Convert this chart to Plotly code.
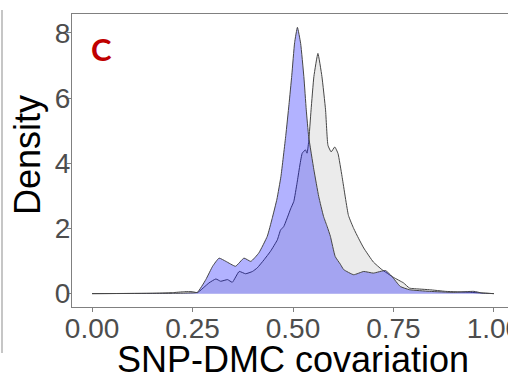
import plotly.graph_objects as go

# ---- data ----
blue_x = [0.00, 0.15, 0.20, 0.24, 0.262, 0.283, 0.300, 0.316, 0.333, 0.357, 0.378, 0.395,
          0.415, 0.436, 0.448, 0.460, 0.470, 0.482, 0.490, 0.497, 0.504, 0.511, 0.519,
          0.527, 0.533, 0.539, 0.552, 0.564, 0.576, 0.585, 0.593, 0.605, 0.618, 0.626,
          0.651, 0.676, 0.700, 0.730, 0.746, 0.767, 0.790, 0.840, 0.900, 0.950, 0.970, 1.00]
blue_y = [0.00, 0.01, 0.01, 0.02, 0.04, 0.43, 0.84, 1.09, 0.99, 0.84, 1.09, 0.99,
          1.25, 1.76, 2.30, 2.90, 3.60, 4.85, 5.80, 6.70, 7.70, 8.17, 7.68,
          6.66, 5.64, 4.82, 3.80, 2.98, 2.37, 2.06, 1.76, 1.14, 0.90, 0.74,
          0.58, 0.68, 0.63, 0.71, 0.53, 0.22, 0.12, 0.07, 0.04, 0.07, 0.02, 0.00]

grey_x = [0.00, 0.15, 0.20, 0.23, 0.25, 0.262, 0.291, 0.308, 0.320, 0.337, 0.349, 0.366,
          0.382, 0.399, 0.411, 0.428, 0.444, 0.461, 0.469, 0.477, 0.494, 0.502, 0.510,
          0.523, 0.531, 0.535, 0.539, 0.545, 0.552, 0.562, 0.572, 0.581, 0.587, 0.595,
          0.604, 0.612, 0.622, 0.638, 0.651, 0.663, 0.676, 0.700, 0.721, 0.750, 0.775,
          0.790, 0.816, 0.840, 0.880, 0.940, 0.970, 1.00]
grey_y = [0.00, 0.01, 0.03, 0.06, 0.06, 0.03, 0.33, 0.45, 0.38, 0.43, 0.35, 0.68,
          0.61, 0.68, 0.79, 1.04, 1.30, 1.65, 1.95, 2.06, 2.60, 2.83, 3.39,
          4.31, 4.41, 4.31, 4.66, 5.64, 6.66, 7.37, 6.66, 5.64, 4.55, 4.35,
          4.50, 4.30, 3.60, 2.40, 2.00, 1.70, 1.40, 0.97, 0.74, 0.50, 0.33,
          0.17, 0.14, 0.12, 0.07, 0.04, 0.02, 0.00]

x_ticks = [0.0, 0.25, 0.5, 0.75, 1.0]
x_ticklabels = ["0.00", "0.25", "0.50", "0.75", "1.00"]
y_ticks = [0, 2, 4, 6, 8]
y_ticklabels = ["0", "2", "4", "6", "8"]

W, H = 518, 382
ML, MR, MT, MB = 72, 4, 14, 75
pw, ph = W - ML - MR, H - MT - MB

def px_x(p):
    return (p - ML) / pw

def px_y(p):
    return (H - MB - p) / ph

line_col = "rgb(70,70,70)"
fig = go.Figure()
fig.add_trace(go.Scatter(x=grey_x, y=grey_y, mode="lines", fill="tozeroy",
                         fillcolor="rgba(190,190,190,0.3)",
                         line=dict(color=line_col, width=1, shape="spline", smoothing=0.4),
                         showlegend=False, hoverinfo="skip"))
fig.add_trace(go.Scatter(x=blue_x, y=blue_y, mode="lines", fill="tozeroy",
                         fillcolor="rgba(0,0,255,0.3)",
                         line=dict(color=line_col, width=1, shape="spline", smoothing=0.4),
                         showlegend=False, hoverinfo="skip"))

axis_line = "#808080"
tick_font = dict(family="Liberation Sans, Arial, sans-serif", size=28, color="#4D4D4D")
fig.update_xaxes(range=[-0.05, 1.05], tickvals=x_ticks, ticktext=x_ticklabels,
                 showgrid=False, zeroline=False, showline=True, mirror=True,
                 linecolor=axis_line, linewidth=1.3, ticks="outside", ticklen=4,
                 tickcolor=axis_line, tickwidth=1, tickfont=tick_font,
                 automargin=False, ticklabelstandoff=-8, ticklabeloverflow="allow")
fig.update_yaxes(range=[-0.41, 8.58], tickvals=y_ticks, ticktext=y_ticklabels,
                 showgrid=False, zeroline=False, showline=True, mirror=True,
                 linecolor=axis_line, linewidth=1.3, ticks="outside", ticklen=4,
                 tickcolor=axis_line, tickwidth=1, tickfont=tick_font,
                 automargin=False, ticklabelstandoff=-9, ticklabeloverflow="allow")

fig.update_layout(
    width=W, height=H,
    margin=dict(l=ML, r=MR, t=MT, b=MB, pad=0, autoexpand=False),
    paper_bgcolor="white", plot_bgcolor="white",
    shapes=[
        # crop of the right edge (reference image is cut here)
        dict(type="rect", xref="paper", yref="paper", x0=px_x(508), x1=px_x(520),
             y0=px_y(390), y1=px_y(-5), fillcolor="white", line=dict(width=0), layer="above"),
        # thin vertical rule at far left
        dict(type="line", xref="paper", yref="paper", x0=px_x(2), x1=px_x(2),
             y0=px_y(10), y1=px_y(353), line=dict(color="#A8A8A8", width=1.3), layer="above"),
    ],
    annotations=[
        dict(text="SNP-DMC covariation", xref="paper", yref="paper", x=0.5, y=px_y(359),
             xanchor="center", yanchor="middle", showarrow=False,
             font=dict(family="Liberation Sans, Arial, sans-serif", size=36, color="black")),
        dict(text="Density", xref="paper", yref="paper", x=px_x(27), y=px_y(155),
             xanchor="center", yanchor="middle", showarrow=False, textangle=-90,
             font=dict(family="Liberation Sans, Arial, sans-serif", size=36, color="black")),
        dict(text="<b>C</b>", xref="paper", yref="paper", x=px_x(101), y=px_y(49),
             xanchor="center", yanchor="middle", showarrow=False,
             font=dict(family="Lato, Open Sans, sans-serif", size=31, color="#C00000")),
    ],
)

fig.write_html("out.html", config={"displayModeBar": False},
               post_script="document.body.style.margin='0';")
